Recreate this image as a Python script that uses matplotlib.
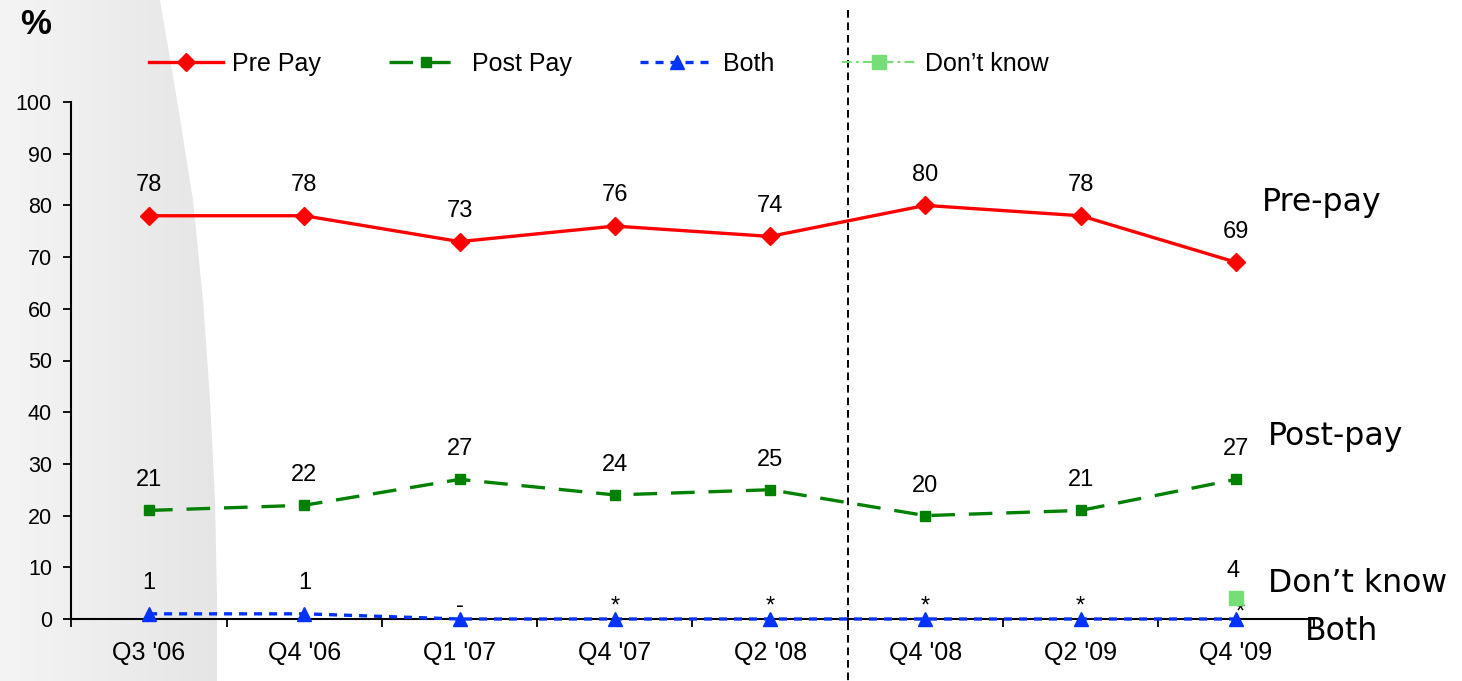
import numpy as np
import matplotlib
matplotlib.use("Agg")
import matplotlib.pyplot as plt
from matplotlib.patches import Polygon
import matplotlib.transforms as mtransforms

plt.rcParams['font.family'] = ['Liberation Sans', 'DejaVu Sans']
plt.rcParams['lines.scale_dashes'] = False

# ---------------- data ----------------
categories = ["Q3 '06", "Q4 '06", "Q1 '07", "Q4 '07", "Q2 '08", "Q4 '08", "Q2 '09", "Q4 '09"]
pre_pay = [78, 78, 73, 76, 74, 80, 78, 69]
post_pay = [21, 22, 27, 24, 25, 20, 21, 27]
both = [1, 1, 0, 0, 0, 0, 0, 0]
both_labels = ["1", "1", "-", "*", "*", "*", "*", "*"]
dont_know = [np.nan, np.nan, np.nan, np.nan, np.nan, np.nan, np.nan, 4]
dont_know_labels = ["", "", "", "", "", "", "", "4"]
yticks = [0, 10, 20, 30, 40, 50, 60, 70, 80, 90, 100]
divider_after = 4  # dashed divider between Q2 '08 and Q4 '08

W, H = 1462, 681
fig = plt.figure(figsize=(W / 100, H / 100), dpi=100)

def fx(px):
    return px / W

def fy(py):
    return 1 - py / H

# ---------------- background gradient (left) ----------------
ax_bg = fig.add_axes([0, 0, 1, 1])
ax_bg.set_xlim(0, W)
ax_bg.set_ylim(H, 0)
ax_bg.axis('off')
grad = np.linspace(0.955, 0.895, 220)
img = np.tile(grad, (10, 1))
im = ax_bg.imshow(img, cmap='gray', vmin=0, vmax=1, extent=[0, 220, H, 0], aspect='auto')
poly = Polygon([(0, 0), (160, 0), (177, 100), (193, 200), (203, 300), (210, 400),
                (215, 500), (217, 600), (217, H), (0, H)], closed=True,
               transform=ax_bg.transData, facecolor='none', edgecolor='none')
ax_bg.add_patch(poly)
im.set_clip_path(poly)

# ---------------- main axes ----------------
x = np.arange(len(categories))
ax = fig.add_axes([fx(71.4), fy(619), fx(1313.6) - fx(71.4), fy(102) - fy(619)])
ax.set_facecolor('none')
ax.set_xlim(-0.5, len(categories) - 0.5)
ax.set_ylim(0, 100)

red = '#FF0000'
green = '#008000'
blue = '#0033FF'
lgreen = '#77DD77'

l_pre, = ax.plot(x, pre_pay, color=red, lw=2.4, marker='D', ms=8.8,
                 mec=red, mfc=red, label='Pre Pay', zorder=5, clip_on=False)
l_post, = ax.plot(x, post_pay, color=green, lw=2.4, marker='s', ms=7.2,
                  mec=green, mfc=green, label='Post Pay', zorder=5, clip_on=False)
l_post.set_dashes([17, 10])
l_both, = ax.plot(x, both, color=blue, lw=2.4, marker='^', ms=9.5,
                  mec=blue, mfc=blue, label='Both', zorder=6, clip_on=False)
l_both.set_dashes([5.8, 5.0])
l_dk, = ax.plot(x, dont_know, color=lgreen, lw=1.5, marker='s', ms=10,
                mec=lgreen, mfc=lgreen, label='Don\u2019t know', zorder=6, clip_on=False)
l_dk.set_dashes([7, 3, 2, 3])

# data labels
lab_fs = 17
for xi, v in zip(x, pre_pay):
    ax.annotate(str(v), (xi, v), xytext=(0, 17.8), textcoords='offset points',
                ha='center', va='baseline', fontsize=lab_fs)
for xi, v in zip(x, post_pay):
    ax.annotate(str(v), (xi, v), xytext=(0, 17.3), textcoords='offset points',
                ha='center', va='baseline', fontsize=lab_fs)
for i, (xi, v, t) in enumerate(zip(x, both, both_labels)):
    if t in ('*', '-'):
        dx, dy = (3, 0.4) if i == len(x) - 1 else (0, 5.0)
    else:
        dx, dy = 0, 17.6
    ax.annotate(t, (xi, v), xytext=(dx, dy), textcoords='offset points',
                ha='center', va='baseline', fontsize=lab_fs)
for xi, v, t in zip(x, dont_know, dont_know_labels):
    if t:
        ax.annotate(t, (xi, v), xytext=(-2, 15.5), textcoords='offset points',
                    ha='center', va='baseline', fontsize=lab_fs)

# axes styling
for s in ['top', 'right']:
    ax.spines[s].set_visible(False)
for s in ['left', 'bottom']:
    ax.spines[s].set_linewidth(1.5)
    ax.spines[s].set_color('black')

ax.set_yticks(yticks)
ax.set_yticklabels([str(t) for t in yticks], fontsize=15.5)
ax.tick_params(axis='y', direction='out', length=6, width=1.3, pad=8)

ax.set_xticks(np.arange(-0.5, len(categories), 1.0))
ax.set_xticklabels([])
ax.tick_params(axis='x', which='major', direction='out', length=6, width=1.3)
ax.set_xticks(x, minor=True)
ax.set_xticklabels(categories, minor=True, fontsize=18)
ax.tick_params(axis='x', which='minor', length=0, pad=16)

# divider
trans = mtransforms.blended_transform_factory(ax.transData, fig.transFigure)
vl, = ax.plot([divider_after + 0.5, divider_after + 0.5], [fy(10), 0], color='black',
              lw=1.4, transform=trans, clip_on=False, zorder=3)
vl.set_dashes([5.5, 3.5])

# legend
fig.legend(handles=[l_pre, l_post, l_both, l_dk], loc='center left',
           bbox_to_anchor=(fx(149), fy(64)), ncol=4, frameon=False, fontsize=18,
           handlelength=2.96, handletextpad=0.36, columnspacing=2.72,
           borderpad=0, borderaxespad=0, numpoints=1)

# "%" label and series names
fig.text(fx(36), fy(24), '%', fontsize=25, fontweight='bold', ha='center', va='center')
side_fs = 22.7
fig.text(fx(1262), fy(202), 'Pre-pay', fontsize=side_fs, family='DejaVu Sans', ha='left', va='center')
fig.text(fx(1268), fy(436), 'Post-pay', fontsize=side_fs, family='DejaVu Sans', ha='left', va='center')
fig.text(fx(1268), fy(584), 'Don\u2019t know', fontsize=side_fs, family='DejaVu Sans', ha='left', va='center')
fig.text(fx(1305), fy(632), 'Both', fontsize=side_fs, family='DejaVu Sans', ha='left', va='center')

fig.savefig('out.png', dpi=100)
